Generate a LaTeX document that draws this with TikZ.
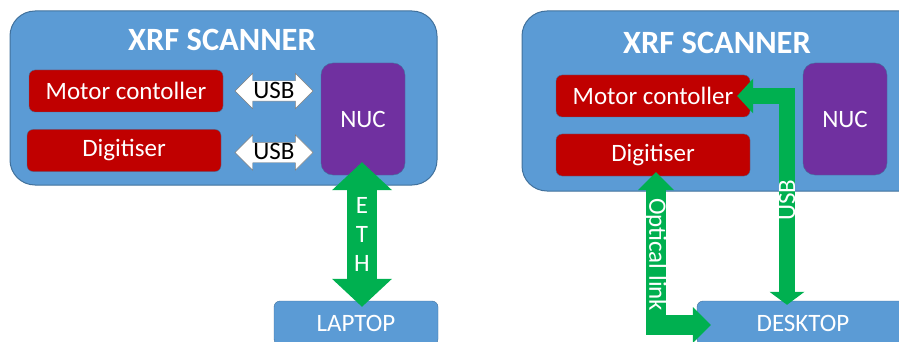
\documentclass[tikz,border=0pt]{standalone}
\usepackage{fontspec}
\setmainfont{Carlito}
\usetikzlibrary{arrows.meta,shapes.arrows,positioning,calc}
\definecolor{boxblue}{HTML}{5B9BD5}
\definecolor{edgeblue}{HTML}{41719C}
\definecolor{unitred}{HTML}{C00000}
\definecolor{nucpurple}{HTML}{7030A0}
\definecolor{linkgreen}{HTML}{00B050}
\begin{document}
\begin{tikzpicture}[
        x=1pt, y=-1pt,
        every node/.style={font=\fontsize{25}{29}\selectfont},
        scanner/.style={draw=edgeblue, fill=boxblue, line width=1pt, rounded corners=25pt, inner sep=0pt},
        title/.style={text=white, font=\fontsize{32.5}{36}\selectfont\bfseries},
        unit/.style={draw=edgeblue, fill=unitred, text=white, rounded corners=6pt, minimum width=194pt, minimum height=42pt, inner sep=0pt},
        nuc/.style={draw=edgeblue, fill=nucpurple, text=white, rounded corners=12pt, minimum width=84pt, minimum height=112pt, inner sep=0pt},
        host/.style={draw=edgeblue, fill=boxblue, text=white, rounded corners=6pt, minimum height=44pt, inner sep=0pt},
        usbarrow/.style={double arrow, draw=gray, fill=white, double arrow head extend=7.5pt, minimum height=78pt, minimum width=35pt, inner xsep=0pt, inner ysep=2.5pt, text height=15pt, text depth=0pt},
        link/.style={draw=linkgreen, line width=#1}
    ]
        \clip (0,0) rectangle (899,342);

        % left: scanner with laptop
        \node[scanner, minimum width=427pt, minimum height=174pt] (scanL) at (223.5,98) {};
        \node[title] (titleL) at (222,40) {XRF SCANNER};
        \node[unit] (mcL) at (126,91) {Motor contoller};
        \node[unit] (dgL) at (124,150.5) {Digitiser};
        \node[nuc] (nucL) at (363,119) {NUC};
        \node[usbarrow] (usbMC) at (274,91) {USB};
        \node[usbarrow] (usbDG) at (274,152.5) {USB};
        \node[host, minimum width=164pt] (laptop) at (356,323) {LAPTOP};

        \draw[link=30pt, {Triangle[width=60pt, length=28pt, line width=0pt]}-{Triangle[width=60pt, length=28pt, line width=0pt]}]
            ($(nucL.south)+(-1,-13)$) -- node[text=white, align=center] (ethLabel) {E\\T\\H} ($(nucL.south |- laptop.north)+(-1,6)$);

        % right: scanner with desktop
        \node[scanner, minimum width=418pt, minimum height=180pt] (scanR) at (731,101) {};
        \node[title] (titleR) at (717,43) {XRF SCANNER};
        \node[unit] (mcR) at (653,96) {Motor contoller};
        \node[unit] (dgR) at (653,155) {Digitiser};
        \node[nuc] (nucR) at (845,119) {NUC};
        \node[host, minimum width=212pt] (desktop) at (803,323) {DESKTOP};

        \draw[link=16pt, {Triangle[width=35pt, length=16pt, line width=0pt]}-{Triangle[width=35pt, length=13pt, line width=0pt]}]
            ($(mcR.east)+(-13,0)$) -| node[pos=0.75, rotate=90, text=white] (usbLabel) {USB} ($(desktop.north)+(-16,4)$);
        \draw[link=20pt, {Triangle[width=36pt, length=18pt, line width=0pt]}-{Triangle[width=36pt, length=18pt, line width=0pt]}]
            ($(dgR.south)+(3,-4)$) |- node[pos=0.27, rotate=-90, text=white] (opticLabel) {Optical link} ($(desktop.west)+(14,2)$);
    \end{tikzpicture}
\end{document}
